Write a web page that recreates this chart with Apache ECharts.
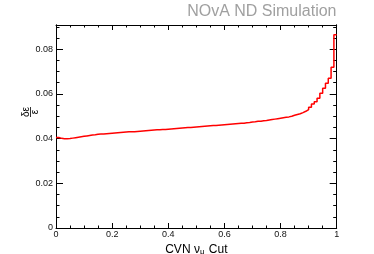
<!DOCTYPE html>
<html>
<head>
<meta charset="utf-8">
<script src="https://cdn.jsdelivr.net/npm/echarts@6/dist/echarts.min.js"></script>
<style>
html,body{margin:0;padding:0;background:#fff;overflow:hidden;}
#c{width:374px;height:254px;}
</style>
</head>
<body>
<div id="c"></div>
<script>
// ---- data ----
const titleText = 'NOvA ND Simulation';
const xTitle = 'CVN ν{sub|μ} Cut';
const binWidth = 0.01;
const xRange = [0, 1];
const yRange = [0, 0.0908];
// relative uncertainty per bin (100 bins from 0 to 1)
const values = [
  0.0405, 0.0401, 0.0399, 0.0399, 0.0400, 0.0402, 0.0404, 0.0406, 0.0408, 0.0410,
  0.0412, 0.0414, 0.0416, 0.0417, 0.0419, 0.0420, 0.0421, 0.0422, 0.0423, 0.0424,
  0.0425, 0.0426, 0.0427, 0.0428, 0.0429, 0.0430, 0.0430, 0.0431, 0.0432, 0.0433,
  0.0434, 0.0435, 0.0436, 0.0437, 0.0438, 0.0439, 0.0440, 0.0441, 0.0441, 0.0442,
  0.0443, 0.0444, 0.0445, 0.0446, 0.0447, 0.0448, 0.0449, 0.0450, 0.0451, 0.0452,
  0.0453, 0.0454, 0.0455, 0.0456, 0.0457, 0.0458, 0.0459, 0.0460, 0.0461, 0.0462,
  0.0463, 0.0464, 0.0465, 0.0466, 0.0467, 0.0468, 0.0469, 0.0471, 0.0472, 0.0474,
  0.0475, 0.0477, 0.0478, 0.0480, 0.0481, 0.0483, 0.0485, 0.0487, 0.0489, 0.0491,
  0.0493, 0.0495, 0.0497, 0.0500, 0.0504, 0.0508, 0.0511, 0.0516, 0.0522, 0.0530,
  0.0540, 0.0555, 0.0565, 0.0580, 0.0603, 0.0625, 0.0647, 0.0670, 0.0719, 0.0864
];

// ---- build ----
const pts = values.map((v, i) => [+(i * binWidth).toFixed(4), v]);
pts.push([xRange[1], values[values.length - 1]]);

const FONT = 'Liberation Sans, Arial, Helvetica, sans-serif';
const lineStyle = { color: '#000', width: 1 };

function yAx(pos, major, labels, grid) {
  return {
    type: 'value', gridIndex: grid, position: pos, min: yRange[0], max: yRange[1],
    interval: major ? 0.02 : 0.005,
    axisLine: { show: true, onZero: false, lineStyle },
    axisTick: { show: true, inside: true, length: major ? 7 : 3.5, lineStyle },
    axisLabel: { show: labels, margin: 3, fontSize: 9, color: '#111', fontFamily: FONT, showMaxLabel: false },
    splitLine: { show: false }
  };
}
function xAx(pos, labels) {
  return {
    type: 'value', gridIndex: 0, position: pos, min: xRange[0], max: xRange[1], interval: 0.2,
    axisLine: { show: true, onZero: false, lineStyle },
    axisTick: { show: true, inside: true, length: 5, lineStyle },
    minorTick: { show: true, splitNumber: 4, length: 2.5, lineStyle },
    axisLabel: { show: labels, margin: 2, fontSize: 9, color: '#111', fontFamily: FONT },
    splitLine: { show: false },
    name: labels ? xTitle : '',
    nameLocation: 'middle', nameGap: 11,
    nameTextStyle: {
      fontSize: 12, color: '#000', fontFamily: FONT,
      rich: { sub: { fontSize: 8, color: '#000', fontFamily: FONT, padding: [4, 1, 0, 0] } }
    }
  };
}
const gridRect = { left: 56, top: 25, right: 37.3, bottom: 26, containLabel: false, outerBoundsMode: 'none' };

const chart = echarts.init(document.getElementById('c'), null, { renderer: 'canvas' });
chart.setOption({
  animation: false,
  backgroundColor: '#fff',
  title: {
    text: titleText, right: 37.5, top: 4, padding: 0,
    textStyle: { fontSize: 16, fontWeight: 'normal', color: '#a0a0a0', fontFamily: FONT }
  },
  grid: [Object.assign({}, gridRect), Object.assign({}, gridRect)],
  xAxis: [xAx('bottom', true), xAx('top', false),
    { type: 'value', gridIndex: 1, min: xRange[0], max: xRange[1], show: false }],
  yAxis: [yAx('left', true, true, 0), yAx('right', true, false, 0),
    yAx('left', false, false, 1), yAx('right', false, false, 1)],
  series: [{
    type: 'line', step: 'end', showSymbol: false, xAxisIndex: 0, yAxisIndex: 0,
    data: pts, lineStyle: { color: '#ff0000', width: 1.5 }, clip: true
  }],
  graphic: [
    { type: 'text', x: 26, y: 112, rotation: Math.PI / 2, style: { text: 'δε', fontSize: 10, fontFamily: FONT, fill: '#000', align: 'center', verticalAlign: 'middle' } },
    { type: 'line', shape: { x1: 30.5, y1: 107, x2: 30.5, y2: 117 }, style: { stroke: '#000', lineWidth: 0.8 } },
    { type: 'text', x: 35, y: 112, rotation: Math.PI / 2, style: { text: 'ε', fontSize: 10, fontFamily: FONT, fill: '#000', align: 'center', verticalAlign: 'middle' } }
  ]
});
</script>
</body>
</html>
